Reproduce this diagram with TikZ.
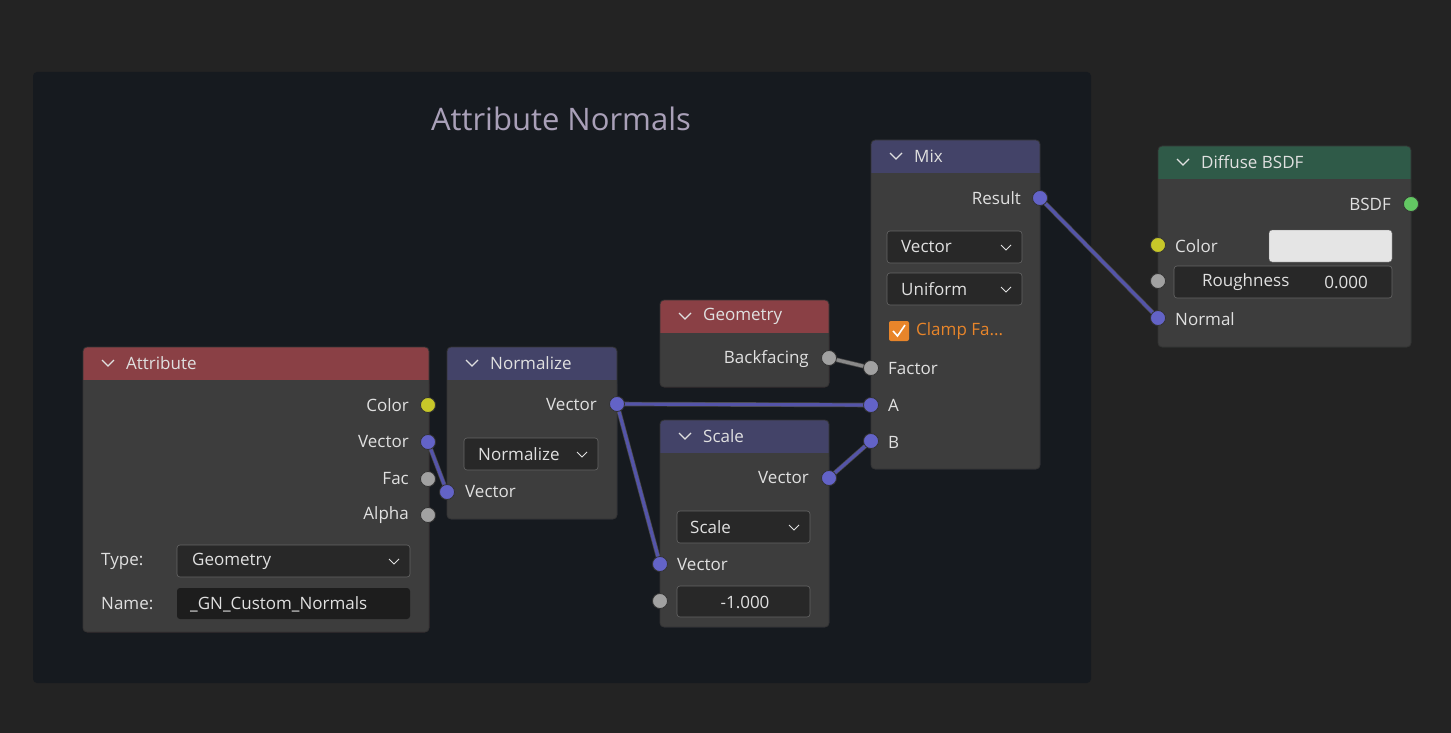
\documentclass[tikz,border=0pt]{standalone}
\usepackage{fontspec}
\setmainfont{Open Sans}
\definecolor{bg}{HTML}{232323}
\definecolor{frame}{HTML}{161A1F}
\definecolor{body}{HTML}{3D3D3D}
\definecolor{hred}{HTML}{8A4045}
\definecolor{hblue}{HTML}{434368}
\definecolor{hgreen}{HTML}{2F5A48}
\definecolor{txt}{HTML}{E0E0E0}
\definecolor{sblue}{HTML}{6363C7}
\definecolor{syel}{HTML}{C7C729}
\definecolor{sgray}{HTML}{A1A1A1}
\definecolor{sgreen}{HTML}{63C763}
\definecolor{field}{HTML}{282828}
\definecolor{dfield}{HTML}{1D1D1D}
\definecolor{orng}{HTML}{E8852A}
\definecolor{ttl}{HTML}{A9A0B8}
\tikzset{
  lbl/.style={text=txt,font=\fontsize{17}{19}\selectfont,inner sep=0pt},
  sock/.style={circle,draw=black!80,line width=0.8pt,minimum size=15pt,inner sep=0pt},
  fld/.style={fill=field,draw=black!60,rounded corners=3pt,line width=0.6pt},
  lnk/.style={line width=4.6pt,draw=black!70},
  lnkc/.style={line width=3.2pt},
}
\newcommand{\bnode}[7]{%
  \fill[#5,rounded corners=4pt] (#1,#2) rectangle (#3,#4);
  \fill[body,rounded corners=4pt] (#1,#2+33) rectangle (#3,#4);
  \fill[body] (#1,#2+33) rectangle (#3,#2+40);
  \draw[black!80,rounded corners=4pt,line width=0.8pt] (#1,#2) rectangle (#3,#4);
  \draw[txt,line width=1.1pt] (#1+19,#2+13) -- (#1+25,#2+19) -- (#1+31,#2+13);
  \node[lbl,anchor=west] (#7) at (#1+43,#2+16.5) {#6};
}
\newcommand{\dd}[5]{%
  \fill[fld] (#1,#2) rectangle (#3,#4);
  \draw[txt,line width=1pt] (#3-21,#2+14) -- (#3-16,#2+19) -- (#3-11,#2+14);
}
\begin{document}
\begin{tikzpicture}[x=1pt,y=-1pt]
\fill[bg] (0,0) rectangle (1451,733);
\useasboundingbox (0,0) rectangle (1451,733);
\fill[frame,rounded corners=4pt] (33,72) rectangle (1091,683);
\node[text=ttl,font=\fontsize{31}{33}\selectfont] (title) at (561,119) {Attribute Normals};

% Attribute
\bnode{83}{347}{429}{632}{hred}{Attribute}{attrT}
\node[lbl,anchor=east] (aC) at (409,405) {Color};
\node[lbl,anchor=east] (aV) at (409,442) {Vector};
\node[lbl,anchor=east] (aF) at (409,479) {Fac};
\node[lbl,anchor=east] (aA) at (409,515) {Alpha};
\node[lbl,anchor=west] (aTy) at (101,561) {Type:};
\dd{177}{545}{410}{577}{}
\node[lbl,anchor=west] (aTyv) at (192,561) {Geometry};
\node[lbl,anchor=west] (aNm) at (101,604) {Name:};
\fill[dfield,rounded corners=3pt] (177,588) rectangle (410,619);
\node[lbl,anchor=west] (aNmv) at (190,604) {\_GN\_Custom\_Normals};

% Normalize
\bnode{447}{347}{617}{519}{hblue}{Normalize}{nT}
\node[lbl,anchor=east] (nVo) at (597,405) {Vector};
\dd{464}{438}{598}{470}{}
\node[lbl,anchor=west] (nD) at (478,454) {Normalize};
\node[lbl,anchor=west] (nVi) at (465,492) {Vector};

% Geometry
\bnode{660}{300}{829}{387}{hred}{Geometry}{gT}
\node[lbl,anchor=east] (gB) at (809,359) {Backfacing};

% Scale
\bnode{660}{420}{829}{627}{hblue}{Scale}{sT}
\node[lbl,anchor=east] (sVo) at (809,478) {Vector};
\dd{677}{511}{810}{543}{}
\node[lbl,anchor=west] (sD) at (690,527) {Scale};
\node[lbl,anchor=west] (sVi) at (677,565) {Vector};
\fill[fld] (677,586) rectangle (810,617);
\node[lbl] (sVal) at (745,602) {-1.000};

% Mix
\bnode{871}{140}{1040}{469}{hblue}{Mix}{mT}
\node[lbl,anchor=east] (mR) at (1021,198) {Result};
\dd{887}{231}{1022}{263}{}
\node[lbl,anchor=west] (mD1) at (901,247) {Vector};
\dd{887}{273}{1022}{305}{}
\node[lbl,anchor=west] (mD2) at (901,289) {Uniform};
\fill[orng,rounded corners=2pt] (889,321) rectangle (909,341);
\draw[white,line width=1.6pt] (893,331) -- (897.5,336) -- (905,325);
\node[lbl,anchor=west,text=orng] (mCl) at (916,331) {Clamp Fa...};
\node[lbl,anchor=west] (mF) at (888,369) {Factor};
\node[lbl,anchor=west] (mA) at (888,405) {A};
\node[lbl,anchor=west] (mB) at (888,442) {B};

% Diffuse
\bnode{1158}{146}{1411}{347}{hgreen}{Diffuse BSDF}{dT}
\node[lbl,anchor=east] (dB) at (1391,204) {BSDF};
\node[lbl,anchor=west] (dC) at (1175,246) {Color};
\fill[fill=black!10,draw=black!60,rounded corners=3pt] (1269,230) rectangle (1392,262);
\fill[fld] (1174,266) rectangle (1392,298);
\node[lbl,anchor=west] (dR) at (1202,282) {Roughness};
\node[lbl,anchor=east] (dRv) at (1368,282) {0.000};
\node[lbl,anchor=west] (dN) at (1175,319) {Normal};

% links
\coordinate (p1) at (428,442); \coordinate (p2) at (447,492);
\coordinate (p3) at (617,404); \coordinate (p4) at (871,405);
\coordinate (p5) at (660,564); \coordinate (p6) at (829,478);
\coordinate (p7) at (871,441); \coordinate (p8) at (829,358);
\coordinate (p9) at (871,368); \coordinate (p10) at (1040,198);
\coordinate (p11) at (1158,318);
\foreach \a/\b/\c in {p1/p2/sblue,p3/p4/sblue,p3/p5/sblue,p6/p7/sblue,p8/p9/sgray,p10/p11/sblue}{
  \draw[lnk] (\a) -- (\b);
  \draw[lnkc,draw=\c!85!black] (\a) -- (\b);
}

% sockets
\node[sock,fill=syel] (s1) at (428,405) {};
\node[sock,fill=sblue] (s2) at (428,442) {};
\node[sock,fill=sgray] (s3) at (428,479) {};
\node[sock,fill=sgray] (s4) at (428,515) {};
\node[sock,fill=sblue] (s5) at (447,492) {};
\node[sock,fill=sblue] (s6) at (617,404) {};
\node[sock,fill=sgray] (s7) at (829,358) {};
\node[sock,fill=sblue] (s8) at (829,478) {};
\node[sock,fill=sblue] (s9) at (660,564) {};
\node[sock,fill=sgray] (s10) at (660,601) {};
\node[sock,fill=sblue] (s11) at (1040,198) {};
\node[sock,fill=sgray] (s12) at (871,368) {};
\node[sock,fill=sblue] (s13) at (871,405) {};
\node[sock,fill=sblue] (s14) at (871,441) {};
\node[sock,fill=sgreen] (s15) at (1411,204) {};
\node[sock,fill=syel] (s16) at (1158,245) {};
\node[sock,fill=sgray] (s17) at (1158,281) {};
\node[sock,fill=sblue] (s18) at (1158,318) {};
\end{tikzpicture}
\end{document}
